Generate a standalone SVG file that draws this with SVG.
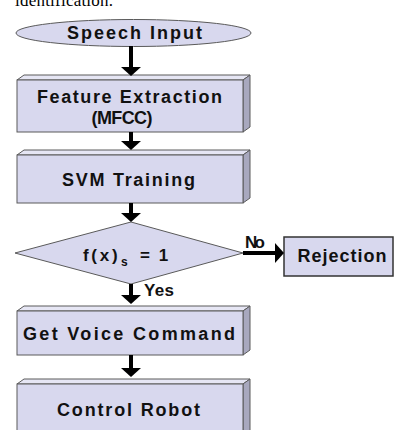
<svg xmlns="http://www.w3.org/2000/svg" width="397" height="430" viewBox="0 0 397 430">
<style>
.face{fill:#d8d8ee;stroke:#5a5a5a;stroke-width:1}
.top{fill:#e6e6f4;stroke:#5a5a5a;stroke-width:1}
.side{fill:#a8a8be;stroke:#5a5a5a;stroke-width:1}
.lbl{font-family:"Liberation Sans",Arial,sans-serif;font-size:18px;font-weight:bold;fill:#111;text-anchor:middle}
.small{font-family:"Liberation Sans",Arial,sans-serif;font-size:17px;font-weight:bold;fill:#111}
.conn{stroke:#000;stroke-width:4;fill:none}
</style>
<defs>
<marker id="ah" viewBox="0 0 9 20" markerWidth="9" markerHeight="20" refX="4" refY="10" orient="auto" markerUnits="userSpaceOnUse">
<path d="M0,0 L9,10 L0,20 z" fill="#000"/>
</marker>
</defs>
<rect width="397" height="430" fill="#fff"/>
<text x="15" y="6" font-family="Liberation Serif,Times New Roman,serif" font-size="17" textLength="98">identification.</text>

<g id="speech-input">
<ellipse cx="133.5" cy="33" rx="117.5" ry="13.5" class="face"/>
<text x="134.5" y="39" class="lbl" textLength="135" lengthAdjust="spacing">Speech Input</text>
</g>

<g id="feature-extraction">
<polygon points="17,80 24,75 250,75 243,80" class="top"/>
<polygon points="243,80 250,75 250,127 243,132" class="side"/>
<rect x="17" y="80" width="226" height="52" class="face"/>
<text x="129.5" y="103" class="lbl" textLength="185" lengthAdjust="spacing">Feature Extraction</text>
<text x="122" y="124" class="lbl" textLength="61" lengthAdjust="spacing">(MFCC)</text>
</g>

<g id="svm-training">
<polygon points="17,155 24,150 250,150 243,155" class="top"/>
<polygon points="243,155 250,150 250,198 243,203" class="side"/>
<rect x="17" y="155" width="226" height="48" class="face"/>
<text x="128.5" y="186" class="lbl" textLength="133" lengthAdjust="spacing">SVM Training</text>
</g>

<g id="decision">
<polygon points="131,222 243,253 131,284 15,253" class="face"/>
<text class="small" font-size="18"><tspan x="83" y="261" letter-spacing="2.7">f(x)</tspan><tspan x="121" y="266" font-size="12">s</tspan><tspan x="140" y="261" letter-spacing="2">= 1</tspan></text>
</g>

<g id="rejection">
<rect x="284" y="237" width="109" height="39" fill="#d8d8ee" stroke="#333" stroke-width="1.5"/>
<text x="342" y="262" class="lbl" textLength="89" lengthAdjust="spacing">Rejection</text>
</g>

<g id="get-voice-command">
<polygon points="17,311 24,306 250,306 243,311" class="top"/>
<polygon points="243,311 250,306 250,350 243,355" class="side"/>
<rect x="17" y="311" width="226" height="44" class="face"/>
<text x="129" y="340" class="lbl" textLength="212" lengthAdjust="spacing">Get Voice Command</text>
</g>

<g id="control-robot">
<polygon points="17,384 24,379 250,379 243,384" class="top"/>
<polygon points="243,384 250,379 250,436 243,436" class="side"/>
<rect x="17" y="384" width="226" height="52" class="face"/>
<text x="128.5" y="416" class="lbl" textLength="143" lengthAdjust="spacing">Control Robot</text>
</g>

<g id="connectors">
<line x1="131" y1="46" x2="131" y2="71" class="conn" marker-end="url(#ah)"/>
<line x1="131" y1="132" x2="131" y2="145" class="conn" marker-end="url(#ah)"/>
<line x1="131" y1="203" x2="131" y2="217" class="conn" marker-end="url(#ah)"/>
<line x1="131" y1="284" x2="131" y2="299" class="conn" marker-end="url(#ah)"/>
<line x1="131" y1="355" x2="131" y2="372" class="conn" marker-end="url(#ah)"/>
<line x1="243" y1="253" x2="279" y2="253" class="conn" marker-end="url(#ah)"/>
<text x="245" y="248" class="small" textLength="20" lengthAdjust="spacing">No</text>
<text x="144" y="296" class="small" textLength="30" lengthAdjust="spacing">Yes</text>
</g>
</svg>
